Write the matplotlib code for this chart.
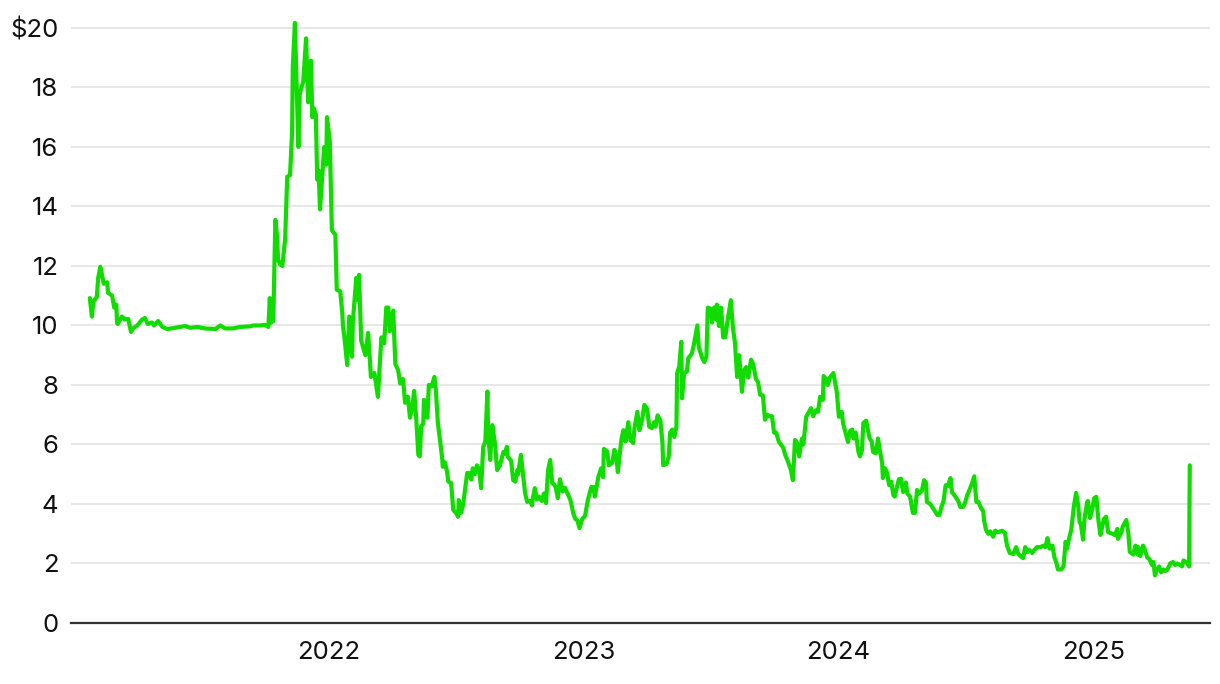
import matplotlib.pyplot as plt
import matplotlib.dates as mdates
import matplotlib.ticker as mticker
import pandas as pd

# share price
dates = [
    "2021-01-23", "2021-01-26", "2021-01-28", "2021-02-02", "2021-02-04", "2021-02-07",
    "2021-02-09", "2021-02-12", "2021-02-17", "2021-02-18", "2021-02-24", "2021-02-27",
    "2021-03-02", "2021-03-03", "2021-03-04", "2021-03-10", "2021-03-14", "2021-03-19",
    "2021-03-23", "2021-03-26", "2021-04-01", "2021-04-08", "2021-04-12", "2021-04-16",
    "2021-04-22", "2021-04-25", "2021-05-01", "2021-05-07", "2021-05-14", "2021-05-25",
    "2021-06-09", "2021-06-16", "2021-06-26", "2021-07-07", "2021-07-22", "2021-07-29",
    "2021-08-05", "2021-08-16", "2021-08-26", "2021-09-10", "2021-09-14", "2021-09-24",
    "2021-10-01", "2021-10-06", "2021-10-08", "2021-10-10", "2021-10-13", "2021-10-16",
    "2021-10-18", "2021-10-20", "2021-10-23", "2021-10-26", "2021-10-30", "2021-11-02",
    "2021-11-06", "2021-11-09", "2021-11-10", "2021-11-13", "2021-11-18", "2021-11-20",
    "2021-11-25", "2021-11-29", "2021-12-02", "2021-12-06", "2021-12-08", "2021-12-10",
    "2021-12-13", "2021-12-15", "2021-12-17", "2021-12-19", "2021-12-23", "2021-12-25",
    "2021-12-28", "2021-12-29", "2022-01-02", "2022-01-05", "2022-01-10", "2022-01-12",
    "2022-01-17", "2022-01-20", "2022-01-21", "2022-01-23", "2022-01-27", "2022-01-30",
    "2022-02-03", "2022-02-04", "2022-02-09", "2022-02-10", "2022-02-13", "2022-02-16",
    "2022-02-22", "2022-02-26", "2022-03-02", "2022-03-07", "2022-03-12", "2022-03-17",
    "2022-03-21", "2022-03-24", "2022-03-27", "2022-03-29", "2022-04-03", "2022-04-06",
    "2022-04-10", "2022-04-13", "2022-04-17", "2022-04-20", "2022-04-24", "2022-04-27",
    "2022-04-30", "2022-05-03", "2022-05-06", "2022-05-09", "2022-05-11", "2022-05-13",
    "2022-05-16", "2022-05-17", "2022-05-22", "2022-05-24", "2022-05-28", "2022-06-01",
    "2022-06-03", "2022-06-06", "2022-06-12", "2022-06-13", "2022-06-16", "2022-06-19",
    "2022-06-21", "2022-06-25", "2022-06-28", "2022-07-02", "2022-07-05", "2022-07-06",
    "2022-07-09", "2022-07-12", "2022-07-18", "2022-07-21", "2022-07-24", "2022-07-26",
    "2022-07-29", "2022-08-01", "2022-08-04", "2022-08-07", "2022-08-10", "2022-08-13",
    "2022-08-16", "2022-08-17", "2022-08-20", "2022-08-23", "2022-08-27", "2022-08-30",
    "2022-09-03", "2022-09-08", "2022-09-10", "2022-09-13", "2022-09-14", "2022-09-19",
    "2022-09-22", "2022-09-25", "2022-09-28", "2022-09-29", "2022-10-03", "2022-10-06",
    "2022-10-09", "2022-10-12", "2022-10-16", "2022-10-19", "2022-10-20", "2022-10-23",
    "2022-10-26", "2022-10-29", "2022-11-02", "2022-11-05", "2022-11-08", "2022-11-11",
    "2022-11-14", "2022-11-17", "2022-11-20", "2022-11-22", "2022-11-25", "2022-11-28",
    "2022-12-02", "2022-12-05", "2022-12-08", "2022-12-13", "2022-12-17", "2022-12-20",
    "2022-12-23", "2022-12-26", "2022-12-30", "2023-01-03", "2023-01-07", "2023-01-12",
    "2023-01-15", "2023-01-17", "2023-01-22", "2023-01-26", "2023-01-29", "2023-01-30",
    "2023-02-04", "2023-02-06", "2023-02-11", "2023-02-14", "2023-02-17", "2023-02-19",
    "2023-02-24", "2023-02-27", "2023-03-02", "2023-03-06", "2023-03-09", "2023-03-13",
    "2023-03-15", "2023-03-19", "2023-03-22", "2023-03-26", "2023-03-29", "2023-04-02",
    "2023-04-05", "2023-04-09", "2023-04-12", "2023-04-14", "2023-04-17", "2023-04-21",
    "2023-04-24", "2023-04-25", "2023-04-30", "2023-05-03", "2023-05-05", "2023-05-08",
    "2023-05-11", "2023-05-14", "2023-05-15", "2023-05-18", "2023-05-21", "2023-05-22",
    "2023-05-25", "2023-05-29", "2023-05-31", "2023-06-05", "2023-06-08", "2023-06-13",
    "2023-06-15", "2023-06-20", "2023-06-23", "2023-06-26", "2023-06-28", "2023-07-03",
    "2023-07-04", "2023-07-07", "2023-07-10", "2023-07-11", "2023-07-14", "2023-07-17",
    "2023-07-20", "2023-07-23", "2023-07-26", "2023-07-31", "2023-08-03", "2023-08-06",
    "2023-08-09", "2023-08-12", "2023-08-16", "2023-08-19", "2023-08-22", "2023-08-25",
    "2023-08-29", "2023-09-01", "2023-09-05", "2023-09-08", "2023-09-11", "2023-09-15",
    "2023-09-18", "2023-09-21", "2023-09-25", "2023-09-28", "2023-10-01", "2023-10-04",
    "2023-10-08", "2023-10-14", "2023-10-17", "2023-10-21", "2023-10-25", "2023-10-28",
    "2023-10-31", "2023-11-03", "2023-11-06", "2023-11-10", "2023-11-12", "2023-11-16",
    "2023-11-20", "2023-11-23", "2023-11-26", "2023-11-30", "2023-12-03", "2023-12-06",
    "2023-12-10", "2023-12-11", "2023-12-16", "2023-12-17", "2023-12-20", "2023-12-25",
    "2023-12-27", "2023-12-30", "2024-01-02", "2024-01-06", "2024-01-08", "2024-01-12",
    "2024-01-15", "2024-01-18", "2024-01-21", "2024-01-23", "2024-01-26", "2024-01-30",
    "2024-02-01", "2024-02-04", "2024-02-06", "2024-02-10", "2024-02-12", "2024-02-15",
    "2024-02-18", "2024-02-20", "2024-02-24", "2024-02-27", "2024-03-01", "2024-03-04",
    "2024-03-05", "2024-03-08", "2024-03-11", "2024-03-14", "2024-03-17", "2024-03-20",
    "2024-03-22", "2024-03-25", "2024-03-28", "2024-03-31", "2024-04-03", "2024-04-07",
    "2024-04-09", "2024-04-13", "2024-04-17", "2024-04-20", "2024-04-23", "2024-04-26",
    "2024-04-30", "2024-05-03", "2024-05-06", "2024-05-07", "2024-05-12", "2024-05-16",
    "2024-05-19", "2024-05-22", "2024-05-25", "2024-05-28", "2024-05-31", "2024-06-03",
    "2024-06-06", "2024-06-10", "2024-06-12", "2024-06-17", "2024-06-21", "2024-06-24",
    "2024-06-28", "2024-07-01", "2024-07-04", "2024-07-08", "2024-07-11", "2024-07-14",
    "2024-07-17", "2024-07-20", "2024-07-24", "2024-07-27", "2024-07-28", "2024-07-31",
    "2024-08-03", "2024-08-06", "2024-08-10", "2024-08-13", "2024-08-17", "2024-08-23",
    "2024-08-27", "2024-08-30", "2024-09-03", "2024-09-08", "2024-09-12", "2024-09-15",
    "2024-09-18", "2024-09-22", "2024-09-25", "2024-09-28", "2024-10-01", "2024-10-05",
    "2024-10-08", "2024-10-12", "2024-10-17", "2024-10-21", "2024-10-24", "2024-10-27",
    "2024-10-30", "2024-11-03", "2024-11-06", "2024-11-09", "2024-11-11", "2024-11-16",
    "2024-11-19", "2024-11-22", "2024-11-24", "2024-11-27", "2024-11-30", "2024-12-03",
    "2024-12-04", "2024-12-07", "2024-12-10", "2024-12-12", "2024-12-14", "2024-12-17",
    "2024-12-19", "2024-12-23", "2024-12-24", "2024-12-27", "2024-12-30", "2025-01-02",
    "2025-01-05", "2025-01-08", "2025-01-11", "2025-01-14", "2025-01-16", "2025-01-19",
    "2025-01-22", "2025-01-28", "2025-02-01", "2025-02-04", "2025-02-05", "2025-02-10",
    "2025-02-12", "2025-02-17", "2025-02-20", "2025-02-22", "2025-02-27", "2025-03-02",
    "2025-03-05", "2025-03-06", "2025-03-09", "2025-03-13", "2025-03-15", "2025-03-19",
    "2025-03-22", "2025-03-26", "2025-03-28", "2025-03-30", "2025-04-02", "2025-04-05",
    "2025-04-08", "2025-04-11", "2025-04-14", "2025-04-17", "2025-04-21", "2025-04-25",
    "2025-04-28", "2025-05-01", "2025-05-05", "2025-05-08", "2025-05-10", "2025-05-14",
    "2025-05-17", "2025-05-18", "2025-05-19",
]

prices = [
    10.92, 10.3, 10.8, 10.96, 11.6, 11.97,
    11.75, 11.4, 11.45, 11.1, 11.0, 10.6,
    10.7, 10.08, 10.05, 10.3, 10.2, 10.22,
    9.78, 9.9, 10.0, 10.2, 10.25, 10.05,
    10.1, 10.0, 10.15, 9.95, 9.88, 9.92,
    9.98, 9.92, 9.95, 9.9, 9.88, 10.0,
    9.9, 9.9, 9.95, 9.97, 10.0, 10.0,
    10.02, 9.95, 10.92, 10.1, 10.15, 13.55,
    13.1, 12.2, 12.05, 12.0, 12.9, 15.0,
    15.05, 16.5, 18.7, 20.17, 16.0, 17.8,
    18.2, 19.65, 17.5, 18.9, 17.0, 17.3,
    17.1, 14.9, 15.2, 13.9, 15.3, 16.0,
    15.4, 17.0, 16.2, 13.2, 13.05, 11.2,
    11.15, 10.4, 9.95, 9.6, 8.67, 10.3,
    8.95, 10.1, 11.6, 10.85, 11.7, 9.5,
    9.0, 9.75, 8.27, 8.4, 7.6, 9.6,
    9.4, 10.6, 10.6, 9.8, 10.5, 8.7,
    8.5, 8.05, 8.2, 7.4, 7.6, 6.9,
    7.2, 7.8, 6.85, 5.65, 5.6, 6.6,
    6.7, 7.5, 6.9, 8.0, 7.95, 8.27,
    7.85, 6.72, 5.58, 5.25, 5.4, 5.1,
    4.75, 4.7, 3.8, 3.7, 3.57, 4.13,
    3.7, 3.95, 5.04, 5.04, 4.82, 5.2,
    5.0, 5.3, 5.15, 4.53, 5.92, 6.1,
    7.78, 6.4, 5.48, 6.65, 6.0, 5.14,
    5.3, 5.75, 5.7, 5.92, 5.6, 5.45,
    4.8, 4.75, 5.14, 5.0, 5.65, 5.0,
    4.37, 4.07, 4.1, 3.95, 4.17, 4.53,
    4.15, 4.25, 4.1, 4.35, 4.03, 5.14,
    5.48, 4.7, 4.65, 4.55, 4.2, 4.83,
    4.42, 4.55, 4.4, 4.13, 3.7, 3.5,
    3.45, 3.19, 3.5, 3.6, 4.13, 4.57,
    4.57, 4.25, 4.9, 5.2, 4.9, 5.85,
    5.75, 5.3, 5.38, 5.82, 5.6, 5.07,
    6.15, 6.48, 6.1, 6.75, 6.15, 6.05,
    6.57, 7.1, 6.48, 6.85, 7.33, 7.2,
    6.6, 6.55, 6.75, 6.6, 6.98, 6.8,
    6.05, 5.3, 5.35, 5.6, 6.4, 6.5,
    6.25, 6.6, 8.4, 8.62, 9.45, 7.55,
    8.4, 8.45, 8.9, 9.05, 9.35, 10.0,
    9.28, 8.9, 8.77, 8.95, 10.6, 10.55,
    10.1, 10.6, 10.2, 10.7, 9.98, 10.6,
    9.6, 9.6, 10.1, 10.85, 9.92, 9.4,
    8.27, 9.0, 7.77, 8.5, 8.6, 8.25,
    8.85, 8.7, 8.2, 8.1, 7.67, 7.65,
    6.83, 7.0, 6.95, 6.95, 6.4, 6.4,
    6.08, 5.9, 5.65, 5.42, 5.15, 4.8,
    6.15, 6.05, 5.6, 6.2, 6.0, 6.93,
    7.1, 7.22, 6.95, 7.15, 7.1, 7.6,
    7.5, 8.3, 8.15, 8.0, 8.25, 8.4,
    8.15, 7.75, 6.93, 7.1, 6.7, 6.35,
    6.08, 6.45, 6.5, 6.2, 6.4, 5.75,
    5.6, 5.8, 6.72, 6.8, 6.55, 6.2,
    6.1, 5.75, 5.7, 6.2, 5.75, 5.37,
    4.87, 5.2, 5.05, 4.63, 4.75, 4.3,
    4.25, 4.55, 4.83, 4.85, 4.4, 4.72,
    4.35, 4.25, 3.7, 3.7, 4.47, 4.35,
    4.45, 4.8, 4.7, 4.07, 4.0, 3.85,
    3.75, 3.63, 3.63, 3.9, 4.1, 4.63,
    4.6, 4.87, 4.4, 4.25, 4.1, 3.9,
    3.9, 4.05, 4.3, 4.52, 4.7, 4.93,
    4.07, 4.07, 3.85, 3.75, 3.45, 3.12,
    3.0, 3.08, 2.9, 3.1, 3.05, 3.1,
    3.03, 2.6, 2.35, 2.32, 2.55, 2.33,
    2.25, 2.18, 2.55, 2.38, 2.45, 2.35,
    2.45, 2.55, 2.55, 2.6, 2.55, 2.85,
    2.5, 2.6, 2.2, 2.0, 1.8, 1.8,
    1.9, 2.73, 2.5, 2.85, 3.12, 3.73,
    3.95, 4.37, 3.95, 3.4, 3.3, 2.8,
    3.5, 4.07, 4.1, 3.53, 3.8, 4.2,
    4.24, 3.45, 2.96, 3.3, 3.5, 3.57,
    3.05, 3.0, 2.95, 3.16, 2.83, 3.05,
    3.25, 3.46, 3.0, 2.39, 2.3, 2.6,
    2.3, 2.55, 2.25, 2.6, 2.5, 2.2,
    2.15, 1.95, 2.05, 1.6, 1.8, 1.9,
    1.7, 1.8, 1.75, 1.8, 2.0, 2.05,
    1.95, 2.0, 1.95, 1.9, 2.1, 2.05,
    1.95, 1.9, 5.3,
]

y_ticks = [0, 2, 4, 6, 8, 10, 12, 14, 16, 18, 20]
x_ticks = ["2022-01-01", "2023-01-01", "2024-01-01", "2025-01-01"]

df = pd.DataFrame({"date": pd.to_datetime(dates), "price": prices})

plt.rcParams['font.family'] = ['Inter', 'DejaVu Sans']

fig = plt.figure(figsize=(12.2, 6.84), dpi=100)
ax = fig.add_axes([71 / 1220, 61 / 684, 1139 / 1220, 604 / 684])

ax.plot(df["date"], df["price"], color='#10dc00', linewidth=3.0,
        solid_joinstyle='round', solid_capstyle='round', zorder=3)

ax.set_ylim(0, 20.3)
ax.set_xlim(pd.Timestamp("2020-12-27"), pd.Timestamp("2025-06-17"))
ax.set_yticks(y_ticks)
ax.yaxis.set_major_formatter(mticker.FuncFormatter(lambda v, p: "$%d" % v if v == 20 else "%d" % v))
ax.set_xticks(pd.to_datetime(x_ticks))
ax.xaxis.set_major_formatter(mdates.DateFormatter('%Y'))

ax.grid(axis='y', color='#e3e3e3', linewidth=1.2, zorder=0)
ax.grid(axis='x', visible=False)
for s in ['top', 'right', 'left']:
    ax.spines[s].set_visible(False)
ax.spines['bottom'].set_color('#333333')
ax.spines['bottom'].set_linewidth(1.6)
ax.tick_params(axis='y', length=0, pad=9, labelsize=18.5, colors='#111111')
ax.tick_params(axis='x', length=0, pad=13, labelsize=18.5, colors='#111111')

fig.savefig('out.png', dpi=100)
